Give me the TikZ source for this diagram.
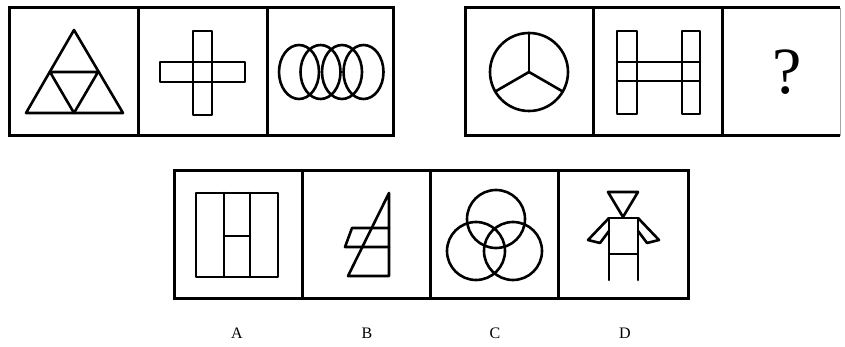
\documentclass[tikz,border=0pt]{standalone}
\usepackage{fontspec}
\setmainfont{Liberation Serif}
\begin{document}
\begin{tikzpicture}[x=1pt,y=-1pt,
  frame/.style={line width=3pt, line join=miter},
  fig/.style={line width=2.6pt, line join=round, line cap=round},
  lbl/.style={font=\fontsize{16}{16}\selectfont, inner sep=0pt}]
\useasboundingbox[fill=white] (0,0) rectangle (845,347);
% ---- top-left strip
\draw[frame] (9,8) rectangle (393,136);
\draw[frame] (138,8) -- (138,136);
\draw[frame] (267,8) -- (267,136);
% triangle
\coordinate (t1) at (74,30);
\coordinate (t2) at (26,113);
\coordinate (t3) at (123,113);
\coordinate (m1) at (50,72);
\coordinate (m2) at (98,72);
\coordinate (m3) at (74,113);
\draw[fig] (t1) -- (t2) -- (t3) -- cycle;
\draw[fig] (m1) -- (m2) -- (m3) -- cycle;
% cross
\draw[fig] (193,31) rectangle (212,115);
\draw[fig] (160,62) rectangle (245,82);
% ellipses
\foreach \cx in {299,320.5,342,363.5}{\draw[fig] (\cx,72) ellipse [x radius=20, y radius=27];}
% ---- top-right strip
\draw[frame] (840,8) -- (465,8) -- (465,136) -- (840,136);
\draw[line width=1pt, black!35] (840,8) -- (840,136);
\draw[frame] (593,8) -- (593,136);
\draw[frame] (722,8) -- (722,136);
% circle with spokes
\coordinate (cc) at (529,72);
\draw[fig] (cc) circle [radius=39];
\draw[fig] (cc) -- ++(270:39);
\draw[fig] (cc) -- ++(150:39);
\draw[fig] (cc) -- ++(30:39);
% H
\draw[fig] (617,31) rectangle (637,114);
\draw[fig] (682,31) rectangle (700,114);
\draw[fig] (617,62) -- (700,62);
\draw[fig] (617,81) -- (700,81);
\node[font=\fontsize{66}{66}\selectfont, inner sep=0pt] (q) at (787,72) {?};
% ---- bottom strip
\draw[frame] (174,171) rectangle (688,298);
\draw[frame] (302,171) -- (302,298);
\draw[frame] (430,171) -- (430,298);
\draw[frame] (558,171) -- (558,298);
% A
\draw[fig] (196,193) rectangle (278,277);
\draw[fig] (224,193) -- (224,277);
\draw[fig] (250,193) -- (250,277);
\draw[fig] (224,236) -- (250,236);
% B
\draw[fig] (389,193) -- (389,276) -- (348,276) -- cycle;
\draw[fig] (389,228) -- (352,228) -- (345,247) -- (389,247);
% C
\draw[fig] (496,219) circle [radius=29];
\draw[fig] (476,251) circle [radius=29];
\draw[fig] (513,251) circle [radius=29];
% D
\draw[fig] (608,192) -- (638,192) -- (623,217) -- cycle;
\draw[fig] (609,218) rectangle (638,254);
\draw[fig] (609,254) -- (609,280);
\draw[fig] (638,254) -- (638,280);
\draw[fig] (609,218) -- (588,240) -- (600,243) -- (609,231);
\draw[fig] (638,218) -- (659,240) -- (647,243) -- (638,231);
% labels
\node[lbl] (la) at (237,333) {A};
\node[lbl] (lb) at (367,333) {B};
\node[lbl] (lc) at (495,333) {C};
\node[lbl] (ld) at (625,333) {D};
\end{tikzpicture}
\end{document}
